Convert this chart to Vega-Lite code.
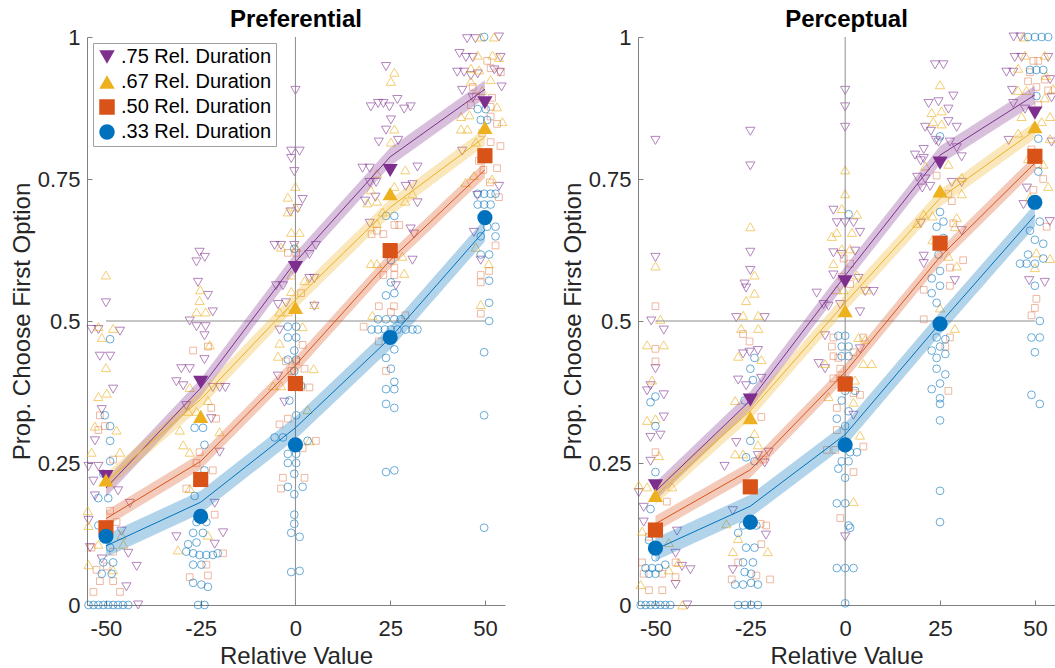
{
"$schema": "https://vega.github.io/schema/vega-lite/v6.json",
"padding": {"left": 10, "top": 8, "right": 0, "bottom": 0},
"background": "white",
"spacing": 52,
"resolve": {"legend": {"color": "independent", "shape": "independent"}},
"config": {
 "font": "Liberation Sans",
 "view": {"stroke": null},
 "axis": {"grid": false, "domainColor": "#808080", "tickColor": "#808080", "tickSize": -5, "labelFontSize": 22, "titleFontSize": 24, "titleFontWeight": "normal", "labelColor": "#262626", "titleColor": "#262626", "labelFont": "Liberation Sans", "titleFont": "Liberation Sans"},
 "title": {"fontSize": 24, "fontWeight": "bold", "color": "#000000", "offset": -6, "font": "Liberation Sans"}
},
"datasets": {
"mL": [
{"c":".75","x":-50,"m":0.226,"f":0.206,"lo":0.190,"hi":0.222},
{"c":".75","x":-25,"m":0.392,"f":0.382,"lo":0.366,"hi":0.398},
{"c":".75","x":0,"m":0.594,"f":0.604,"lo":0.588,"hi":0.620},
{"c":".75","x":25,"m":0.765,"f":0.789,"lo":0.773,"hi":0.805},
{"c":".75","x":50,"m":0.884,"f":0.908,"lo":0.892,"hi":0.924},
{"c":".67","x":-50,"m":0.220,"f":0.217,"lo":0.202,"hi":0.232},
{"c":".67","x":-25,"m":0.332,"f":0.362,"lo":0.347,"hi":0.377},
{"c":".67","x":0,"m":0.524,"f":0.537,"lo":0.522,"hi":0.552},
{"c":".67","x":25,"m":0.724,"f":0.700,"lo":0.685,"hi":0.715},
{"c":".67","x":50,"m":0.841,"f":0.824,"lo":0.809,"hi":0.839},
{"c":".50","x":-50,"m":0.136,"f":0.152,"lo":0.138,"hi":0.166},
{"c":".50","x":-25,"m":0.221,"f":0.253,"lo":0.239,"hi":0.267},
{"c":".50","x":0,"m":0.390,"f":0.422,"lo":0.408,"hi":0.436},
{"c":".50","x":25,"m":0.624,"f":0.607,"lo":0.593,"hi":0.621},
{"c":".50","x":50,"m":0.791,"f":0.766,"lo":0.752,"hi":0.780},
{"c":".33","x":-50,"m":0.121,"f":0.104,"lo":0.084,"hi":0.124},
{"c":".33","x":-25,"m":0.156,"f":0.181,"lo":0.161,"hi":0.201},
{"c":".33","x":0,"m":0.282,"f":0.312,"lo":0.292,"hi":0.332},
{"c":".33","x":25,"m":0.471,"f":0.470,"lo":0.450,"hi":0.490},
{"c":".33","x":50,"m":0.682,"f":0.660,"lo":0.640,"hi":0.680}
],
"mR": [
{"c":".75","x":-50,"m":0.210,"f":0.200,"lo":0.184,"hi":0.216},
{"c":".75","x":-25,"m":0.361,"f":0.360,"lo":0.344,"hi":0.376},
{"c":".75","x":0,"m":0.569,"f":0.580,"lo":0.564,"hi":0.596},
{"c":".75","x":25,"m":0.778,"f":0.792,"lo":0.776,"hi":0.808},
{"c":".75","x":50,"m":0.866,"f":0.898,"lo":0.882,"hi":0.914},
{"c":".67","x":-50,"m":0.193,"f":0.192,"lo":0.177,"hi":0.207},
{"c":".67","x":-25,"m":0.330,"f":0.342,"lo":0.327,"hi":0.357},
{"c":".67","x":0,"m":0.518,"f":0.532,"lo":0.517,"hi":0.547},
{"c":".67","x":25,"m":0.729,"f":0.716,"lo":0.701,"hi":0.731},
{"c":".67","x":50,"m":0.842,"f":0.836,"lo":0.821,"hi":0.851},
{"c":".50","x":-50,"m":0.132,"f":0.143,"lo":0.129,"hi":0.157},
{"c":".50","x":-25,"m":0.208,"f":0.238,"lo":0.224,"hi":0.252},
{"c":".50","x":0,"m":0.389,"f":0.410,"lo":0.396,"hi":0.424},
{"c":".50","x":25,"m":0.637,"f":0.613,"lo":0.599,"hi":0.627},
{"c":".50","x":50,"m":0.790,"f":0.778,"lo":0.764,"hi":0.792},
{"c":".33","x":-50,"m":0.100,"f":0.098,"lo":0.078,"hi":0.118},
{"c":".33","x":-25,"m":0.146,"f":0.174,"lo":0.154,"hi":0.194},
{"c":".33","x":0,"m":0.282,"f":0.300,"lo":0.280,"hi":0.320},
{"c":".33","x":25,"m":0.495,"f":0.496,"lo":0.476,"hi":0.516},
{"c":".33","x":50,"m":0.709,"f":0.686,"lo":0.666,"hi":0.706}
],
"sL": [
{"c":".75","x":-50,"y":0.532},{"c":".75","x":-53.8,"y":0.485},{"c":".75","x":-52,"y":0.485},{"c":".75","x":-46.3,"y":0.482},{"c":".75","x":-51.6,"y":0.438},{"c":".75","x":-48.9,"y":0.438},{"c":".75","x":-48.1,"y":0.38},{"c":".75","x":-51.1,"y":0.344},{"c":".75","x":-52.9,"y":0.289},{"c":".75","x":-54.6,"y":0.244},{"c":".75","x":-52,"y":0.244},{"c":".75","x":-53.3,"y":0.218},{"c":".75","x":-46.8,"y":0.201},{"c":".75","x":-52.9,"y":0.192},{"c":".75","x":-43.7,"y":0.179},{"c":".75","x":-54.6,"y":0.149},{"c":".75","x":-45.9,"y":0.13},{"c":".75","x":-54.2,"y":0.101},{"c":".75","x":-51.1,"y":0.081},{"c":".75","x":-44.1,"y":0.091},{"c":".75","x":-41.9,"y":0.068},{"c":".75","x":-44.6,"y":0.032},{"c":".75","x":-41.5,"y":0},
{"c":".75","x":-25.3,"y":0.621},{"c":".75","x":-26.1,"y":0.604},{"c":".75","x":-23.9,"y":0.612},{"c":".75","x":-25.7,"y":0.568},{"c":".75","x":-23.1,"y":0.545},{"c":".75","x":-21.8,"y":0.516},{"c":".75","x":-27.9,"y":0.5},{"c":".75","x":-26.1,"y":0.49},{"c":".75","x":-23.7,"y":0.49},{"c":".75","x":-24,"y":0.474},{"c":".75","x":-30.1,"y":0.416},{"c":".75","x":-27.9,"y":0.416},{"c":".75","x":-24,"y":0.432},{"c":".75","x":-31.4,"y":0.393},{"c":".75","x":-29.6,"y":0.386},{"c":".75","x":-21.8,"y":0.383},{"c":".75","x":-20,"y":0.383},{"c":".75","x":-18.5,"y":0.383},{"c":".75","x":-28.8,"y":0.351},{"c":".75","x":-22.2,"y":0.328},{"c":".75","x":-20,"y":0.269},{"c":".75","x":-21.3,"y":0.179},{"c":".75","x":-31.4,"y":0.12},{"c":".75","x":-19.1,"y":0.127},{"c":".75","x":-21.3,"y":0.107},
{"c":".75","x":0,"y":0.906},{"c":".75","x":-1.1,"y":0.799},{"c":".75","x":1.1,"y":0.799},{"c":".75","x":-0.3,"y":0.763},{"c":".75","x":-1.1,"y":0.786},{"c":".75","x":1.9,"y":0.714},{"c":".75","x":-1.3,"y":0.692},{"c":".75","x":0.6,"y":0.698},{"c":".75","x":-5.5,"y":0.633},{"c":".75","x":-3.8,"y":0.633},{"c":".75","x":-0.3,"y":0.633},{"c":".75","x":5.4,"y":0.633},{"c":".75","x":3.7,"y":0.617},{"c":".75","x":3.7,"y":0.575},{"c":".75","x":5,"y":0.575},{"c":".75","x":-3.3,"y":0.562},{"c":".75","x":-5.1,"y":0.562},{"c":".75","x":-4.6,"y":0.529},{"c":".75","x":-2.5,"y":0.532},{"c":".75","x":5,"y":0.526},{"c":".75","x":-4.2,"y":0.484},{"c":".75","x":-4.6,"y":0.403},{"c":".75","x":-2.9,"y":0.357},
{"c":".75","x":23.9,"y":0.948},{"c":".75","x":19.9,"y":0.877},{"c":".75","x":21.8,"y":0.883},{"c":".75","x":23.2,"y":0.883},{"c":".75","x":24.8,"y":0.877},{"c":".75","x":26.9,"y":0.89},{"c":".75","x":28.7,"y":0.873},{"c":".75","x":30.4,"y":0.877},{"c":".75","x":25.2,"y":0.854},{"c":".75","x":23.9,"y":0.836},{"c":".75","x":22,"y":0.815},{"c":".75","x":27.1,"y":0.818},{"c":".75","x":17.7,"y":0.769},{"c":".75","x":19.6,"y":0.769},{"c":".75","x":32.2,"y":0.771},{"c":".75","x":19.6,"y":0.744},{"c":".75","x":21.3,"y":0.744},{"c":".75","x":29.1,"y":0.737},{"c":".75","x":30.9,"y":0.74},{"c":".75","x":18.4,"y":0.711},{"c":".75","x":21.1,"y":0.718},{"c":".75","x":32.2,"y":0.708},{"c":".75","x":19.6,"y":0.672},{"c":".75","x":30.4,"y":0.662},{"c":".75","x":31.3,"y":0.653},{"c":".75","x":30.9,"y":0.607},{"c":".75","x":26.5,"y":0.562},
{"c":".75","x":45.3,"y":0.997},{"c":".75","x":47.5,"y":0.997},{"c":".75","x":53.7,"y":1},{"c":".75","x":43.3,"y":0.971},{"c":".75","x":45,"y":0.964},{"c":".75","x":46.8,"y":0.964},{"c":".75","x":54.1,"y":0.964},{"c":".75","x":42.7,"y":0.938},{"c":".75","x":44.5,"y":0.938},{"c":".75","x":46.3,"y":0.932},{"c":".75","x":48.1,"y":0.935},{"c":".75","x":52.5,"y":0.942},{"c":".75","x":53.9,"y":0.938},{"c":".75","x":44,"y":0.906},{"c":".75","x":54.4,"y":0.912},{"c":".75","x":46.8,"y":0.893},{"c":".75","x":44,"y":0.799},{"c":".75","x":47.1,"y":0.656},{"c":".75","x":48.9,"y":0.607},{"c":".75","x":53.7,"y":0.737},{"c":".75","x":48,"y":0.721},
{"c":".67","x":-50,"y":0.581},{"c":".67","x":-52,"y":0.49},{"c":".67","x":-48.1,"y":0.487},{"c":".67","x":-51.1,"y":0.471},{"c":".67","x":-50,"y":0.418},{"c":".67","x":-52,"y":0.367},{"c":".67","x":-49.8,"y":0.373},{"c":".67","x":-52.9,"y":0.315},{"c":".67","x":-47.2,"y":0.308},{"c":".67","x":-53.8,"y":0.269},{"c":".67","x":-46.3,"y":0.269},{"c":".67","x":-54.6,"y":0.14},{"c":".67","x":-54.8,"y":0.166},{"c":".67","x":-45.9,"y":0.123},{"c":".67","x":-52,"y":0.107},{"c":".67","x":-45.4,"y":0.107},{"c":".67","x":-54.6,"y":0.071},{"c":".67","x":-48.1,"y":0.062},
{"c":".67","x":-25.1,"y":0.555},{"c":".67","x":-25.3,"y":0.536},{"c":".67","x":-26.1,"y":0.516},{"c":".67","x":-23.7,"y":0.516},{"c":".67","x":-22.6,"y":0.458},{"c":".67","x":-27.9,"y":0.383},{"c":".67","x":-23.1,"y":0.36},{"c":".67","x":-28.3,"y":0.341},{"c":".67","x":-26.1,"y":0.341},{"c":".67","x":-30.5,"y":0.308},{"c":".67","x":-29.6,"y":0.282},{"c":".67","x":-27.9,"y":0.269},{"c":".67","x":-20,"y":0.305},{"c":".67","x":-27.9,"y":0.205},{"c":".67","x":-23.1,"y":0.123},{"c":".67","x":-31,"y":0.097},
{"c":".67","x":0,"y":0.737},{"c":".67","x":-2,"y":0.718},{"c":".67","x":0,"y":0.701},{"c":".67","x":-2,"y":0.692},{"c":".67","x":-1.1,"y":0.656},{"c":".67","x":1.1,"y":0.656},{"c":".67","x":-3.8,"y":0.63},{"c":".67","x":0.2,"y":0.63},{"c":".67","x":-1.1,"y":0.581},{"c":".67","x":2.4,"y":0.571},{"c":".67","x":-1.1,"y":0.552},{"c":".67","x":-4.2,"y":0.516},{"c":".67","x":-2,"y":0.516},{"c":".67","x":5,"y":0.529},{"c":".67","x":1.9,"y":0.49},{"c":".67","x":-4.2,"y":0.461},{"c":".67","x":-4.6,"y":0.438},{"c":".67","x":4.8,"y":0.416},{"c":".67","x":-5.9,"y":0.386},{"c":".67","x":-3.8,"y":0.386},{"c":".67","x":3.2,"y":0.344},{"c":".67","x":3.7,"y":0.289},
{"c":".67","x":26.1,"y":0.938},{"c":".67","x":25.2,"y":0.922},{"c":".67","x":26.1,"y":0.838},{"c":".67","x":25.2,"y":0.815},{"c":".67","x":21.5,"y":0.76},{"c":".67","x":29,"y":0.766},{"c":".67","x":19.9,"y":0.731},{"c":".67","x":26.1,"y":0.737},{"c":".67","x":30.9,"y":0.724},{"c":".67","x":19,"y":0.708},{"c":".67","x":21.5,"y":0.711},{"c":".67","x":29,"y":0.711},{"c":".67","x":23,"y":0.692},{"c":".67","x":21.5,"y":0.672},{"c":".67","x":19.9,"y":0.601},{"c":".67","x":21.5,"y":0.601},{"c":".67","x":28.2,"y":0.614},{"c":".67","x":28.7,"y":0.584},{"c":".67","x":20.3,"y":0.51},
{"c":".67","x":48.9,"y":1},{"c":".67","x":52.4,"y":1},{"c":".67","x":48.1,"y":0.968},{"c":".67","x":52,"y":0.968},{"c":".67","x":53.7,"y":0.964},{"c":".67","x":46.3,"y":0.945},{"c":".67","x":48.5,"y":0.942},{"c":".67","x":51.5,"y":0.925},{"c":".67","x":46.3,"y":0.922},{"c":".67","x":49.3,"y":0.906},{"c":".67","x":43.7,"y":0.86},{"c":".67","x":45.9,"y":0.863},{"c":".67","x":53.2,"y":0.877},{"c":".67","x":43.7,"y":0.838},{"c":".67","x":45.4,"y":0.838},{"c":".67","x":54.6,"y":0.851},{"c":".67","x":47.6,"y":0.815},{"c":".67","x":47.1,"y":0.756},{"c":".67","x":44.9,"y":0.744},{"c":".67","x":51.9,"y":0.75},{"c":".67","x":51,"y":0.601},{"c":".67","x":48.9,"y":0.529},{"c":".67","x":47.6,"y":0.63},
{"c":".50","x":-52,"y":0.308},{"c":".50","x":-50.3,"y":0.315},{"c":".50","x":-51.6,"y":0.334},{"c":".50","x":-48.1,"y":0.256},{"c":".50","x":-48.9,"y":0.166},{"c":".50","x":-47.2,"y":0.146},{"c":".50","x":-53.8,"y":0.101},{"c":".50","x":-48.1,"y":0.094},{"c":".50","x":-52.5,"y":0.062},{"c":".50","x":-49.8,"y":0.068},{"c":".50","x":-51.6,"y":0.042},{"c":".50","x":-48.1,"y":0.042},{"c":".50","x":-53.3,"y":0.023},{"c":".50","x":-46.3,"y":0.023},
{"c":".50","x":-27,"y":0.448},{"c":".50","x":-23.1,"y":0.455},{"c":".50","x":-25.3,"y":0.269},{"c":".50","x":-22.2,"y":0.347},{"c":".50","x":-20.9,"y":0.328},{"c":".50","x":-26.1,"y":0.25},{"c":".50","x":-21.8,"y":0.237},{"c":".50","x":-28.8,"y":0.205},{"c":".50","x":-21.3,"y":0.159},{"c":".50","x":-19.1,"y":0.091},{"c":".50","x":-23.5,"y":0.071},{"c":".50","x":-27.9,"y":0.049},{"c":".50","x":-23.1,"y":0.052},
{"c":".50","x":-2,"y":0.62},{"c":".50","x":0.2,"y":0.62},{"c":".50","x":1.5,"y":0.549},{"c":".50","x":1.9,"y":0.458},{"c":".50","x":-2.5,"y":0.429},{"c":".50","x":0.2,"y":0.429},{"c":".50","x":2.4,"y":0.416},{"c":".50","x":-1.1,"y":0.412},{"c":".50","x":1.5,"y":0.383},{"c":".50","x":3.7,"y":0.383},{"c":".50","x":-4.2,"y":0.318},{"c":".50","x":-2,"y":0.328},{"c":".50","x":5.4,"y":0.289},{"c":".50","x":1.9,"y":0.276},{"c":".50","x":-3.3,"y":0.224},{"c":".50","x":2.4,"y":0.224},{"c":".50","x":-3.8,"y":0.205},
{"c":".50","x":26.1,"y":0.669},{"c":".50","x":27.4,"y":0.669},{"c":".50","x":21.5,"y":0.659},{"c":".50","x":23.2,"y":0.653},{"c":".50","x":20.1,"y":0.653},{"c":".50","x":26.1,"y":0.594},{"c":".50","x":23.2,"y":0.581},{"c":".50","x":26.1,"y":0.581},{"c":".50","x":22,"y":0.526},{"c":".50","x":26,"y":0.526},{"c":".50","x":25.2,"y":0.516},{"c":".50","x":29,"y":0.51},{"c":".50","x":18,"y":0.49},{"c":".50","x":22,"y":0.464},{"c":".50","x":23.9,"y":0.412},
{"c":".50","x":50.6,"y":0.958},{"c":".50","x":51.5,"y":0.945},{"c":".50","x":54.2,"y":0.938},{"c":".50","x":46.8,"y":0.912},{"c":".50","x":47.6,"y":0.896},{"c":".50","x":51.9,"y":0.893},{"c":".50","x":51.5,"y":0.877},{"c":".50","x":46.3,"y":0.88},{"c":".50","x":51.5,"y":0.86},{"c":".50","x":53.2,"y":0.847},{"c":".50","x":54.1,"y":0.808},{"c":".50","x":49.3,"y":0.831},{"c":".50","x":51.5,"y":0.815},{"c":".50","x":48.4,"y":0.782},{"c":".50","x":49.6,"y":0.766},{"c":".50","x":53.2,"y":0.769},{"c":".50","x":51.3,"y":0.744},{"c":".50","x":53.7,"y":0.718},{"c":".50","x":52.8,"y":0.633},{"c":".50","x":48.9,"y":0.581},{"c":".50","x":48.9,"y":0.568},{"c":".50","x":51.1,"y":0.588},{"c":".50","x":48.9,"y":0.513},
{"c":".33","x":-48.9,"y":0.468},{"c":".33","x":-50.3,"y":0.334},{"c":".33","x":-48.9,"y":0.315},{"c":".33","x":-48.9,"y":0.289},{"c":".33","x":-48.9,"y":0.253},{"c":".33","x":-50.7,"y":0.231},{"c":".33","x":-52,"y":0.188},{"c":".33","x":-49.4,"y":0.188},{"c":".33","x":-52,"y":0.14},{"c":".33","x":-48.9,"y":0.101},{"c":".33","x":-50.7,"y":0.075},{"c":".33","x":-48.1,"y":0.075},{"c":".33","x":-51.1,"y":0.055},{"c":".33","x":-48.5,"y":0.055},{"c":".33","x":-54.6,"y":0},{"c":".33","x":-53.3,"y":0},{"c":".33","x":-52,"y":0},{"c":".33","x":-50.7,"y":0},{"c":".33","x":-49.4,"y":0},{"c":".33","x":-48.1,"y":0},{"c":".33","x":-46.8,"y":0},{"c":".33","x":-45.5,"y":0},{"c":".33","x":-44.1,"y":0},
{"c":".33","x":-26.6,"y":0.312},{"c":".33","x":-24.4,"y":0.312},{"c":".33","x":-24,"y":0.282},{"c":".33","x":-24,"y":0.237},{"c":".33","x":-26.6,"y":0.192},{"c":".33","x":-26.1,"y":0.146},{"c":".33","x":-23.5,"y":0.146},{"c":".33","x":-27,"y":0.127},{"c":".33","x":-24.4,"y":0.127},{"c":".33","x":-28.3,"y":0.107},{"c":".33","x":-26.1,"y":0.11},{"c":".33","x":-28.8,"y":0.094},{"c":".33","x":-27,"y":0.091},{"c":".33","x":-25.3,"y":0.088},{"c":".33","x":-23.5,"y":0.088},{"c":".33","x":-21.8,"y":0.088},{"c":".33","x":-20.5,"y":0.091},{"c":".33","x":-27,"y":0.071},{"c":".33","x":-24.8,"y":0.071},{"c":".33","x":-27,"y":0.039},{"c":".33","x":-24.8,"y":0.036},{"c":".33","x":-23.1,"y":0.032},{"c":".33","x":-25.7,"y":0},{"c":".33","x":-24,"y":0},
{"c":".33","x":-0.3,"y":0.627},{"c":".33","x":-2,"y":0.49},{"c":".33","x":0.2,"y":0.49},{"c":".33","x":-2,"y":0.471},{"c":".33","x":0.2,"y":0.471},{"c":".33","x":-0.3,"y":0.448},{"c":".33","x":-2,"y":0.432},{"c":".33","x":0.2,"y":0.432},{"c":".33","x":-0.3,"y":0.412},{"c":".33","x":-0.7,"y":0.386},{"c":".33","x":1.5,"y":0.386},{"c":".33","x":-1.6,"y":0.36},{"c":".33","x":0.2,"y":0.334},{"c":".33","x":-5.5,"y":0.295},{"c":".33","x":-3.3,"y":0.295},{"c":".33","x":3.2,"y":0.289},{"c":".33","x":-2,"y":0.266},{"c":".33","x":0.2,"y":0.266},{"c":".33","x":-2,"y":0.25},{"c":".33","x":0.2,"y":0.25},{"c":".33","x":-0.3,"y":0.231},{"c":".33","x":-2,"y":0.208},{"c":".33","x":1.9,"y":0.208},{"c":".33","x":-0.3,"y":0.195},{"c":".33","x":-0.3,"y":0.159},{"c":".33","x":-0.3,"y":0.143},{"c":".33","x":-1.1,"y":0.127},{"c":".33","x":1.1,"y":0.12},{"c":".33","x":-1.1,"y":0.058},{"c":".33","x":1.1,"y":0.06},
{"c":".33","x":23.9,"y":0.685},{"c":".33","x":26.1,"y":0.685},{"c":".33","x":25.2,"y":0.607},{"c":".33","x":25.2,"y":0.568},{"c":".33","x":23.9,"y":0.545},{"c":".33","x":26.1,"y":0.549},{"c":".33","x":21.8,"y":0.503},{"c":".33","x":23.9,"y":0.503},{"c":".33","x":26.1,"y":0.503},{"c":".33","x":27.8,"y":0.503},{"c":".33","x":20.1,"y":0.485},{"c":".33","x":21.8,"y":0.485},{"c":".33","x":23.6,"y":0.485},{"c":".33","x":25.2,"y":0.485},{"c":".33","x":26.9,"y":0.485},{"c":".33","x":29.1,"y":0.485},{"c":".33","x":30.9,"y":0.485},{"c":".33","x":32.2,"y":0.485},{"c":".33","x":25.6,"y":0.468},{"c":".33","x":26.1,"y":0.45},{"c":".33","x":23.9,"y":0.435},{"c":".33","x":25.2,"y":0.416},{"c":".33","x":26.1,"y":0.393},{"c":".33","x":23.9,"y":0.38},{"c":".33","x":26.1,"y":0.38},{"c":".33","x":23.9,"y":0.354},{"c":".33","x":26.1,"y":0.347},{"c":".33","x":23.9,"y":0.234},{"c":".33","x":26.1,"y":0.237},
{"c":".33","x":49.8,"y":1},{"c":".33","x":48.1,"y":0.873},{"c":".33","x":50.2,"y":0.873},{"c":".33","x":48.9,"y":0.854},{"c":".33","x":50.6,"y":0.854},{"c":".33","x":48.1,"y":0.724},{"c":".33","x":49.8,"y":0.724},{"c":".33","x":51.5,"y":0.724},{"c":".33","x":52.8,"y":0.724},{"c":".33","x":48.1,"y":0.705},{"c":".33","x":49.8,"y":0.705},{"c":".33","x":51.5,"y":0.705},{"c":".33","x":50.6,"y":0.666},{"c":".33","x":52.8,"y":0.666},{"c":".33","x":48.9,"y":0.649},{"c":".33","x":52.8,"y":0.649},{"c":".33","x":48.9,"y":0.617},{"c":".33","x":51.1,"y":0.617},{"c":".33","x":51.1,"y":0.571},{"c":".33","x":51.1,"y":0.532},{"c":".33","x":51.1,"y":0.5},{"c":".33","x":49.8,"y":0.445},{"c":".33","x":49.8,"y":0.334},{"c":".33","x":49.8,"y":0.136}
],
"sR": [
{"c":".75","x":-50,"y":0.818},{"c":".75","x":-50,"y":0.612},{"c":".75","x":-51.1,"y":0.5},{"c":".75","x":-47.8,"y":0.484},{"c":".75","x":-50,"y":0.416},{"c":".75","x":-51.3,"y":0.386},{"c":".75","x":-52.2,"y":0.377},{"c":".75","x":-47.8,"y":0.37},{"c":".75","x":-47.8,"y":0.331},{"c":".75","x":-51.3,"y":0.295},{"c":".75","x":-48.7,"y":0.299},{"c":".75","x":-51.3,"y":0.253},{"c":".75","x":-54.4,"y":0.198},{"c":".75","x":-53.1,"y":0.172},{"c":".75","x":-53.1,"y":0.146},{"c":".75","x":-44.3,"y":0.13},{"c":".75","x":-44.7,"y":0.091},{"c":".75","x":-43,"y":0.068},{"c":".75","x":-40.8,"y":0.062},{"c":".75","x":-44.7,"y":0.036},{"c":".75","x":-41.6,"y":0},
{"c":".75","x":-25,"y":0.834},{"c":".75","x":-25,"y":0.773},{"c":".75","x":-25,"y":0.621},{"c":".75","x":-25,"y":0.589},{"c":".75","x":-26.5,"y":0.565},{"c":".75","x":-26.1,"y":0.558},{"c":".75","x":-28.7,"y":0.506},{"c":".75","x":-21.2,"y":0.506},{"c":".75","x":-25.2,"y":0.445},{"c":".75","x":-23,"y":0.448},{"c":".75","x":-26.9,"y":0.442},{"c":".75","x":-28.2,"y":0.396},{"c":".75","x":-22.1,"y":0.399},{"c":".75","x":-26.1,"y":0.386},{"c":".75","x":-28.7,"y":0.286},{"c":".75","x":-23,"y":0.263},{"c":".75","x":-21.2,"y":0.25},{"c":".75","x":-31.8,"y":0.244},{"c":".75","x":-29.6,"y":0.166},{"c":".75","x":-20.9,"y":0.123},{"c":".75","x":-29.6,"y":0.062},{"c":".75","x":-20.2,"y":0.269},
{"c":".75","x":0,"y":0.906},{"c":".75","x":0,"y":0.877},{"c":".75","x":0,"y":0.841},{"c":".75","x":-3.1,"y":0.695},{"c":".75","x":-2.2,"y":0.673},{"c":".75","x":0,"y":0.673},{"c":".75","x":2.2,"y":0.673},{"c":".75","x":3.9,"y":0.656},{"c":".75","x":-3.1,"y":0.62},{"c":".75","x":-0.9,"y":0.617},{"c":".75","x":2.6,"y":0.623},{"c":".75","x":-3.1,"y":0.581},{"c":".75","x":3.5,"y":0.575},{"c":".75","x":5.3,"y":0.552},{"c":".75","x":7.5,"y":0.552},{"c":".75","x":-7.5,"y":0.549},{"c":".75","x":-5.7,"y":0.529},{"c":".75","x":-4.4,"y":0.526},{"c":".75","x":-1.3,"y":0.529},{"c":".75","x":3.9,"y":0.516},{"c":".75","x":-5.3,"y":0.474},{"c":".75","x":3.9,"y":0.451},{"c":".75","x":-7,"y":0.425},{"c":".75","x":-5.3,"y":0.416},{"c":".75","x":2.2,"y":0.334},{"c":".75","x":0,"y":0.12},
{"c":".75","x":23.7,"y":0.951},{"c":".75","x":25.9,"y":0.951},{"c":".75","x":22,"y":0.883},{"c":".75","x":24.6,"y":0.886},{"c":".75","x":28.5,"y":0.896},{"c":".75","x":27.2,"y":0.873},{"c":".75","x":27.2,"y":0.851},{"c":".75","x":29.4,"y":0.841},{"c":".75","x":21.1,"y":0.841},{"c":".75","x":22.6,"y":0.834},{"c":".75","x":23.9,"y":0.818},{"c":".75","x":24.6,"y":0.815},{"c":".75","x":27.6,"y":0.815},{"c":".75","x":20.7,"y":0.802},{"c":".75","x":29.4,"y":0.805},{"c":".75","x":18.4,"y":0.792},{"c":".75","x":20.7,"y":0.786},{"c":".75","x":19.9,"y":0.782},{"c":".75","x":30.7,"y":0.789},{"c":".75","x":19,"y":0.753},{"c":".75","x":21.1,"y":0.75},{"c":".75","x":20.3,"y":0.734},{"c":".75","x":22.4,"y":0.737},{"c":".75","x":28.1,"y":0.744},{"c":".75","x":30.7,"y":0.744},{"c":".75","x":19.9,"y":0.672},{"c":".75","x":30.7,"y":0.659},{"c":".75","x":20.7,"y":0.614},{"c":".75","x":20.7,"y":0.601},{"c":".75","x":28.9,"y":0.571},
{"c":".75","x":44.4,"y":1},{"c":".75","x":46.2,"y":1},{"c":".75","x":44.7,"y":0.964},{"c":".75","x":46.5,"y":0.964},{"c":".75","x":53.5,"y":0.964},{"c":".75","x":42.5,"y":0.938},{"c":".75","x":44.3,"y":0.938},{"c":".75","x":54,"y":0.925},{"c":".75","x":44,"y":0.906},{"c":".75","x":54.4,"y":0.893},{"c":".75","x":44.3,"y":0.883},{"c":".75","x":47.4,"y":0.873},{"c":".75","x":43.1,"y":0.818},{"c":".75","x":54.4,"y":0.815},{"c":".75","x":47.9,"y":0.734},{"c":".75","x":53.9,"y":0.675},{"c":".75","x":48.5,"y":0.571},{"c":".75","x":52.6,"y":0.568},{"c":".75","x":47,"y":0.705},
{"c":".67","x":-50,"y":0.597},{"c":".67","x":-48.7,"y":0.503},{"c":".67","x":-52.2,"y":0.458},{"c":".67","x":-47.8,"y":0.458},{"c":".67","x":-50.9,"y":0.396},{"c":".67","x":-52.2,"y":0.325},{"c":".67","x":-50,"y":0.328},{"c":".67","x":-49.1,"y":0.263},{"c":".67","x":-54.4,"y":0.211},{"c":".67","x":-52.2,"y":0.208},{"c":".67","x":-45.6,"y":0.208},{"c":".67","x":-53.5,"y":0.13},{"c":".67","x":-46.5,"y":0.11},{"c":".67","x":-46.5,"y":0.062},{"c":".67","x":-53.9,"y":0.036},{"c":".67","x":-43.9,"y":0.075},{"c":".67","x":-42.9,"y":0},
{"c":".67","x":-25,"y":0.666},{"c":".67","x":-23.9,"y":0.581},{"c":".67","x":-23.9,"y":0.549},{"c":".67","x":-26.1,"y":0.536},{"c":".67","x":-26.9,"y":0.51},{"c":".67","x":-22.9,"y":0.51},{"c":".67","x":-27.4,"y":0.487},{"c":".67","x":-22.9,"y":0.487},{"c":".67","x":-28.2,"y":0.438},{"c":".67","x":-22.1,"y":0.432},{"c":".67","x":-29,"y":0.36},{"c":".67","x":-23.9,"y":0.302},{"c":".67","x":-23,"y":0.282},{"c":".67","x":-29,"y":0.266},{"c":".67","x":-26.9,"y":0.266},{"c":".67","x":-31.3,"y":0.143},{"c":".67","x":-28.2,"y":0.117},{"c":".67","x":-29.6,"y":0.094},{"c":".67","x":-20.4,"y":0.094},
{"c":".67","x":0,"y":0.766},{"c":".67","x":0,"y":0.724},{"c":".67","x":-0.9,"y":0.698},{"c":".67","x":3.1,"y":0.688},{"c":".67","x":-2.2,"y":0.656},{"c":".67","x":1.8,"y":0.656},{"c":".67","x":-3.5,"y":0.649},{"c":".67","x":-0.9,"y":0.627},{"c":".67","x":1.3,"y":0.627},{"c":".67","x":-3.1,"y":0.601},{"c":".67","x":3.1,"y":0.581},{"c":".67","x":-2.2,"y":0.555},{"c":".67","x":-0.4,"y":0.555},{"c":".67","x":5.7,"y":0.555},{"c":".67","x":3.5,"y":0.471},{"c":".67","x":5.3,"y":0.468},{"c":".67","x":-5.3,"y":0.425},{"c":".67","x":4.8,"y":0.425},{"c":".67","x":7,"y":0.425},{"c":".67","x":2.6,"y":0.396},{"c":".67","x":-4.4,"y":0.367},{"c":".67","x":2.2,"y":0.357},{"c":".67","x":3.9,"y":0.299},{"c":".67","x":2.2,"y":0.182},
{"c":".67","x":25,"y":0.916},{"c":".67","x":22.8,"y":0.867},{"c":".67","x":25.4,"y":0.87},{"c":".67","x":23.2,"y":0.851},{"c":".67","x":25.4,"y":0.847},{"c":".67","x":21.1,"y":0.773},{"c":".67","x":27.2,"y":0.776},{"c":".67","x":30.7,"y":0.753},{"c":".67","x":30.7,"y":0.724},{"c":".67","x":20.7,"y":0.688},{"c":".67","x":23,"y":0.685},{"c":".67","x":29.4,"y":0.682},{"c":".67","x":28.9,"y":0.666},{"c":".67","x":23,"y":0.643},{"c":".67","x":27.2,"y":0.614},{"c":".67","x":29.4,"y":0.597},{"c":".67","x":25,"y":0.523},{"c":".67","x":28.9,"y":0.487},{"c":".67","x":19,"y":0.672},
{"c":".67","x":47,"y":1},{"c":".67","x":47.4,"y":0.968},{"c":".67","x":52.6,"y":0.968},{"c":".67","x":45.6,"y":0.945},{"c":".67","x":53,"y":0.932},{"c":".67","x":45.6,"y":0.906},{"c":".67","x":47.8,"y":0.906},{"c":".67","x":54.8,"y":0.909},{"c":".67","x":52.6,"y":0.893},{"c":".67","x":46.5,"y":0.86},{"c":".67","x":54,"y":0.86},{"c":".67","x":51.8,"y":0.851},{"c":".67","x":45.6,"y":0.831},{"c":".67","x":54,"y":0.821},{"c":".67","x":48.2,"y":0.786},{"c":".67","x":52.2,"y":0.776},{"c":".67","x":53.5,"y":0.737},{"c":".67","x":48.7,"y":0.718},{"c":".67","x":50.4,"y":0.62},{"c":".67","x":50,"y":0.594},{"c":".67","x":54,"y":0.61},
{"c":".50","x":-50,"y":0.526},{"c":".50","x":-50,"y":0.451},{"c":".50","x":-50,"y":0.429},{"c":".50","x":-50,"y":0.269},{"c":".50","x":-47,"y":0.182},{"c":".50","x":-51.7,"y":0.12},{"c":".50","x":-53.5,"y":0.075},{"c":".50","x":-44.7,"y":0.075},{"c":".50","x":-53.1,"y":0.055},{"c":".50","x":-48.2,"y":0.055},{"c":".50","x":-44.7,"y":0.049},{"c":".50","x":-51.7,"y":0.026},{"c":".50","x":-48.2,"y":0.026},
{"c":".50","x":-26.9,"y":0.477},{"c":".50","x":-25.2,"y":0.464},{"c":".50","x":-22.1,"y":0.331},{"c":".50","x":-20.8,"y":0.14},{"c":".50","x":-22.3,"y":0.143},{"c":".50","x":-22.1,"y":0.107},{"c":".50","x":-29.9,"y":0.045},{"c":".50","x":-19.8,"y":0.045},{"c":".50","x":-23.4,"y":0.052},{"c":".50","x":-28.2,"y":0.075},{"c":".50","x":-21.6,"y":0.256},
{"c":".50","x":-0.4,"y":0.61},{"c":".50","x":1.3,"y":0.601},{"c":".50","x":-0.9,"y":0.578},{"c":".50","x":1.3,"y":0.565},{"c":".50","x":-3.1,"y":0.471},{"c":".50","x":-3.5,"y":0.455},{"c":".50","x":-3.1,"y":0.438},{"c":".50","x":-1.8,"y":0.435},{"c":".50","x":4.8,"y":0.471},{"c":".50","x":2.2,"y":0.445},{"c":".50","x":-1.3,"y":0.416},{"c":".50","x":-3.1,"y":0.399},{"c":".50","x":-0.9,"y":0.399},{"c":".50","x":2.2,"y":0.373},{"c":".50","x":3.9,"y":0.37},{"c":".50","x":-2.2,"y":0.347},{"c":".50","x":-2.2,"y":0.308},{"c":".50","x":-4.8,"y":0.273},{"c":".50","x":-2.6,"y":0.273},{"c":".50","x":4.8,"y":0.279},{"c":".50","x":2.2,"y":0.234},{"c":".50","x":-1.3,"y":0.153},
{"c":".50","x":24.1,"y":0.756},{"c":".50","x":27.2,"y":0.724},{"c":".50","x":28.1,"y":0.711},{"c":".50","x":28.5,"y":0.672},{"c":".50","x":31.1,"y":0.607},{"c":".50","x":27.6,"y":0.594},{"c":".50","x":20.7,"y":0.555},{"c":".50","x":27.6,"y":0.562},{"c":".50","x":20.7,"y":0.503},{"c":".50","x":27.6,"y":0.471},{"c":".50","x":26.4,"y":0.455},{"c":".50","x":27.2,"y":0.377},
{"c":".50","x":49.6,"y":0.958},{"c":".50","x":50.9,"y":0.958},{"c":".50","x":48.7,"y":0.938},{"c":".50","x":52.6,"y":0.925},{"c":".50","x":48.2,"y":0.922},{"c":".50","x":50.4,"y":0.912},{"c":".50","x":53.5,"y":0.906},{"c":".50","x":50.9,"y":0.88},{"c":".50","x":49.1,"y":0.802},{"c":".50","x":50.9,"y":0.776},{"c":".50","x":52.2,"y":0.75},{"c":".50","x":49.6,"y":0.731},{"c":".50","x":53.1,"y":0.666},{"c":".50","x":50.4,"y":0.539},{"c":".50","x":50,"y":0.523},{"c":".50","x":49.1,"y":0.51},
{"c":".33","x":-50,"y":0.367},{"c":".33","x":-51.3,"y":0.357},{"c":".33","x":-50,"y":0.315},{"c":".33","x":-50,"y":0.234},{"c":".33","x":-51.3,"y":0.169},{"c":".33","x":-51.7,"y":0.114},{"c":".33","x":-50,"y":0.084},{"c":".33","x":-52.6,"y":0.065},{"c":".33","x":-50.9,"y":0.065},{"c":".33","x":-49.1,"y":0.065},{"c":".33","x":-47.4,"y":0.071},{"c":".33","x":-51.7,"y":0.055},{"c":".33","x":-50,"y":0.055},{"c":".33","x":-53.9,"y":0},{"c":".33","x":-52.6,"y":0},{"c":".33","x":-51.3,"y":0},{"c":".33","x":-50,"y":0},{"c":".33","x":-48.7,"y":0},{"c":".33","x":-47.4,"y":0},{"c":".33","x":-46.1,"y":0},
{"c":".33","x":-23.9,"y":0.435},{"c":".33","x":-25,"y":0.416},{"c":".33","x":-24.3,"y":0.396},{"c":".33","x":-26.5,"y":0.36},{"c":".33","x":-25,"y":0.289},{"c":".33","x":-26.1,"y":0.26},{"c":".33","x":-23.9,"y":0.253},{"c":".33","x":-26.9,"y":0.14},{"c":".33","x":-25.2,"y":0.14},{"c":".33","x":-23.4,"y":0.14},{"c":".33","x":-28.2,"y":0.127},{"c":".33","x":-26.1,"y":0.101},{"c":".33","x":-23.9,"y":0.101},{"c":".33","x":-26.9,"y":0.075},{"c":".33","x":-24.3,"y":0.075},{"c":".33","x":-26.5,"y":0.058},{"c":".33","x":-24.8,"y":0.055},{"c":".33","x":-29,"y":0.036},{"c":".33","x":-26.9,"y":0.036},{"c":".33","x":-24.8,"y":0.039},{"c":".33","x":-23,"y":0.036},{"c":".33","x":-28.2,"y":0},{"c":".33","x":-26.4,"y":0},{"c":".33","x":-24.8,"y":0},{"c":".33","x":-23,"y":0},
{"c":".33","x":0.9,"y":0.688},{"c":".33","x":-1.8,"y":0.474},{"c":".33","x":0,"y":0.474},{"c":".33","x":-0.9,"y":0.455},{"c":".33","x":0.9,"y":0.455},{"c":".33","x":-0.9,"y":0.438},{"c":".33","x":0.9,"y":0.438},{"c":".33","x":-0.9,"y":0.396},{"c":".33","x":0.9,"y":0.396},{"c":".33","x":0,"y":0.377},{"c":".33","x":2.6,"y":0.377},{"c":".33","x":-0.9,"y":0.36},{"c":".33","x":0.9,"y":0.341},{"c":".33","x":-2.2,"y":0.328},{"c":".33","x":0,"y":0.315},{"c":".33","x":1.3,"y":0.269},{"c":".33","x":3.1,"y":0.269},{"c":".33","x":-0.9,"y":0.253},{"c":".33","x":0.9,"y":0.253},{"c":".33","x":-1.8,"y":0.24},{"c":".33","x":0,"y":0.224},{"c":".33","x":-2.2,"y":0.179},{"c":".33","x":0,"y":0.179},{"c":".33","x":0.9,"y":0.14},{"c":".33","x":1.3,"y":0.136},{"c":".33","x":-2.2,"y":0.065},{"c":".33","x":0,"y":0.065},{"c":".33","x":2.2,"y":0.065},{"c":".33","x":0,"y":0.003},
{"c":".33","x":25,"y":0.825},{"c":".33","x":25,"y":0.692},{"c":".33","x":25.9,"y":0.675},{"c":".33","x":24.1,"y":0.666},{"c":".33","x":25.9,"y":0.646},{"c":".33","x":24.6,"y":0.617},{"c":".33","x":25,"y":0.588},{"c":".33","x":22.8,"y":0.575},{"c":".33","x":25,"y":0.562},{"c":".33","x":22.8,"y":0.549},{"c":".33","x":24.1,"y":0.532},{"c":".33","x":24.1,"y":0.471},{"c":".33","x":26.4,"y":0.468},{"c":".33","x":25,"y":0.455},{"c":".33","x":22.8,"y":0.448},{"c":".33","x":26.4,"y":0.442},{"c":".33","x":24.1,"y":0.435},{"c":".33","x":24.1,"y":0.416},{"c":".33","x":26.4,"y":0.406},{"c":".33","x":25,"y":0.39},{"c":".33","x":22.8,"y":0.38},{"c":".33","x":25,"y":0.364},{"c":".33","x":25,"y":0.354},{"c":".33","x":25,"y":0.325},{"c":".33","x":25,"y":0.201},{"c":".33","x":25,"y":0.146},
{"c":".33","x":48.2,"y":1},{"c":".33","x":50,"y":1},{"c":".33","x":51.8,"y":1},{"c":".33","x":53.5,"y":1},{"c":".33","x":48.7,"y":0.942},{"c":".33","x":50.4,"y":0.942},{"c":".33","x":52.2,"y":0.942},{"c":".33","x":50.4,"y":0.896},{"c":".33","x":50.9,"y":0.821},{"c":".33","x":50.9,"y":0.763},{"c":".33","x":51.3,"y":0.675},{"c":".33","x":48.7,"y":0.659},{"c":".33","x":50,"y":0.643},{"c":".33","x":52.2,"y":0.636},{"c":".33","x":48.2,"y":0.617},{"c":".33","x":52.2,"y":0.61},{"c":".33","x":46.1,"y":0.601},{"c":".33","x":47.8,"y":0.601},{"c":".33","x":50,"y":0.601},{"c":".33","x":50,"y":0.562},{"c":".33","x":51.3,"y":0.5},{"c":".33","x":49.1,"y":0.471},{"c":".33","x":51.3,"y":0.471},{"c":".33","x":50,"y":0.445},{"c":".33","x":49.1,"y":0.37},{"c":".33","x":51.3,"y":0.354}
]
},
"hconcat": [
{
 "width": 418, "height": 568,
 "title": {"text": "Preferential"},
 "layer": [
  {"data": {"name": "sL"}, "transform": [{"filter": "datum.c == '.75'"}],
   "mark": {"type": "point", "shape": "triangle-down", "filled": false, "color": "#7E2F8E", "size": 85, "opacity": 0.65, "strokeWidth": 0.9},
   "encoding": {
    "x": {"field": "x", "type": "quantitative", "scale": {"domain": [-55, 55.3], "nice": false, "zero": false},
          "axis": {"title": "Relative Value", "values": [-50, -25, 0, 25, 50], "labelExpr": "datum.value < 0 ? '-' + (-datum.value) : '' + datum.value", "labelPadding": 18, "titlePadding": 5}},
    "y": {"field": "y", "type": "quantitative", "scale": {"domain": [0, 1], "nice": false, "zero": false},
          "axis": {"title": "Prop. Choose First Option", "values": [0, 0.25, 0.5, 0.75, 1], "labelExpr": "'' + datum.value", "labelPadding": 12, "titlePadding": 3}}
   }},
  {"data": {"name": "sL"}, "transform": [{"filter": "datum.c == '.67'"}],
   "mark": {"type": "point", "shape": "triangle-up", "filled": false, "color": "#EDB120", "size": 85, "opacity": 0.7, "strokeWidth": 0.9},
   "encoding": {"x": {"field": "x", "type": "quantitative"}, "y": {"field": "y", "type": "quantitative"}}},
  {"data": {"name": "sL"}, "transform": [{"filter": "datum.c == '.50'"}],
   "mark": {"type": "point", "shape": "square", "filled": false, "color": "#D95319", "size": 45, "opacity": 0.45, "strokeWidth": 0.9},
   "encoding": {"x": {"field": "x", "type": "quantitative"}, "y": {"field": "y", "type": "quantitative"}}},
  {"data": {"name": "sL"}, "transform": [{"filter": "datum.c == '.33'"}],
   "mark": {"type": "point", "shape": "circle", "filled": false, "color": "#0072BD", "size": 60, "opacity": 0.65, "strokeWidth": 0.9},
   "encoding": {"x": {"field": "x", "type": "quantitative"}, "y": {"field": "y", "type": "quantitative"}}},
  {"data": {"values": [{}]}, "mark": {"type": "rule", "color": "#8c8c8c", "strokeWidth": 1},
   "encoding": {"x": {"datum": 0, "type": "quantitative"}, "y": {"datum": 0, "type": "quantitative"}, "y2": {"datum": 1}}},
  {"data": {"values": [{}]}, "mark": {"type": "rule", "color": "#8c8c8c", "strokeWidth": 1},
   "encoding": {"x": {"datum": -50, "type": "quantitative"}, "x2": {"datum": 50}, "y": {"datum": 0.5, "type": "quantitative"}}},
  {"data": {"name": "mL"}, "mark": {"type": "area", "opacity": 0.3},
   "encoding": {
    "x": {"field": "x", "type": "quantitative"},
    "y": {"field": "lo", "type": "quantitative"},
    "y2": {"field": "hi"},
    "fill": {"field": "c", "type": "nominal", "scale": {"domain": [".75", ".67", ".50", ".33"], "range": ["#7E2F8E", "#EDB120", "#D95319", "#0072BD"]}, "legend": null}
   }},
  {"data": {"name": "mL"}, "mark": {"type": "line", "strokeWidth": 1},
   "encoding": {
    "x": {"field": "x", "type": "quantitative"},
    "y": {"field": "f", "type": "quantitative"},
    "stroke": {"field": "c", "type": "nominal", "scale": {"domain": [".75", ".67", ".50", ".33"], "range": ["#7E2F8E", "#EDB120", "#D95319", "#0072BD"]}, "legend": null}
   }},
  {"data": {"name": "mL"}, "mark": {"type": "point", "filled": true, "size": 230, "opacity": 1},
   "encoding": {
    "x": {"field": "x", "type": "quantitative"},
    "y": {"field": "m", "type": "quantitative"},
    "color": {"field": "c", "type": "nominal", "scale": {"domain": [".75", ".67", ".50", ".33"], "range": ["#7E2F8E", "#EDB120", "#D95319", "#0072BD"]},
              "legend": {"title": null, "orient": "top-left", "offset": 6, "padding": 4, "strokeColor": "#a0a0a0", "fillColor": "white", "labelFontSize": 20, "labelFont": "Liberation Sans", "labelColor": "#000000", "symbolSize": 240, "rowPadding": 5, "labelOffset": 4, "labelExpr": "datum.label + ' Rel. Duration'"}},
    "shape": {"field": "c", "type": "nominal", "scale": {"domain": [".75", ".67", ".50", ".33"], "range": ["triangle-down", "triangle-up", "square", "circle"]},
              "legend": {"title": null, "orient": "top-left", "offset": 6, "padding": 4, "strokeColor": "#a0a0a0", "fillColor": "white", "labelFontSize": 20, "labelFont": "Liberation Sans", "labelColor": "#000000", "symbolSize": 240, "rowPadding": 5, "labelOffset": 4, "labelExpr": "datum.label + ' Rel. Duration'"}}
   }}
 ]
},
{
 "width": 417, "height": 568,
 "title": {"text": "Perceptual"},
 "layer": [
  {"data": {"name": "sR"}, "transform": [{"filter": "datum.c == '.75'"}],
   "mark": {"type": "point", "shape": "triangle-down", "filled": false, "color": "#7E2F8E", "size": 85, "opacity": 0.65, "strokeWidth": 0.9},
   "encoding": {
    "x": {"field": "x", "type": "quantitative", "scale": {"domain": [-54.6, 55.3], "nice": false, "zero": false},
          "axis": {"title": "Relative Value", "values": [-50, -25, 0, 25, 50], "labelExpr": "datum.value < 0 ? '-' + (-datum.value) : '' + datum.value", "labelPadding": 18, "titlePadding": 5}},
    "y": {"field": "y", "type": "quantitative", "scale": {"domain": [0, 1], "nice": false, "zero": false},
          "axis": {"title": "Prop. Choose First Option", "values": [0, 0.25, 0.5, 0.75, 1], "labelExpr": "'' + datum.value", "labelPadding": 12, "titlePadding": 3}}
   }},
  {"data": {"name": "sR"}, "transform": [{"filter": "datum.c == '.67'"}],
   "mark": {"type": "point", "shape": "triangle-up", "filled": false, "color": "#EDB120", "size": 85, "opacity": 0.7, "strokeWidth": 0.9},
   "encoding": {"x": {"field": "x", "type": "quantitative"}, "y": {"field": "y", "type": "quantitative"}}},
  {"data": {"name": "sR"}, "transform": [{"filter": "datum.c == '.50'"}],
   "mark": {"type": "point", "shape": "square", "filled": false, "color": "#D95319", "size": 45, "opacity": 0.45, "strokeWidth": 0.9},
   "encoding": {"x": {"field": "x", "type": "quantitative"}, "y": {"field": "y", "type": "quantitative"}}},
  {"data": {"name": "sR"}, "transform": [{"filter": "datum.c == '.33'"}],
   "mark": {"type": "point", "shape": "circle", "filled": false, "color": "#0072BD", "size": 60, "opacity": 0.65, "strokeWidth": 0.9},
   "encoding": {"x": {"field": "x", "type": "quantitative"}, "y": {"field": "y", "type": "quantitative"}}},
  {"data": {"values": [{}]}, "mark": {"type": "rule", "color": "#8c8c8c", "strokeWidth": 1},
   "encoding": {"x": {"datum": 0, "type": "quantitative"}, "y": {"datum": 0, "type": "quantitative"}, "y2": {"datum": 1}}},
  {"data": {"values": [{}]}, "mark": {"type": "rule", "color": "#8c8c8c", "strokeWidth": 1},
   "encoding": {"x": {"datum": -50, "type": "quantitative"}, "x2": {"datum": 50}, "y": {"datum": 0.5, "type": "quantitative"}}},
  {"data": {"name": "mR"}, "mark": {"type": "area", "opacity": 0.3},
   "encoding": {
    "x": {"field": "x", "type": "quantitative"},
    "y": {"field": "lo", "type": "quantitative"},
    "y2": {"field": "hi"},
    "fill": {"field": "c", "type": "nominal", "scale": {"domain": [".75", ".67", ".50", ".33"], "range": ["#7E2F8E", "#EDB120", "#D95319", "#0072BD"]}, "legend": null}
   }},
  {"data": {"name": "mR"}, "mark": {"type": "line", "strokeWidth": 1},
   "encoding": {
    "x": {"field": "x", "type": "quantitative"},
    "y": {"field": "f", "type": "quantitative"},
    "stroke": {"field": "c", "type": "nominal", "scale": {"domain": [".75", ".67", ".50", ".33"], "range": ["#7E2F8E", "#EDB120", "#D95319", "#0072BD"]}, "legend": null}
   }},
  {"data": {"name": "mR"}, "mark": {"type": "point", "filled": true, "size": 230, "opacity": 1},
   "encoding": {
    "x": {"field": "x", "type": "quantitative"},
    "y": {"field": "m", "type": "quantitative"},
    "color": {"field": "c", "type": "nominal", "scale": {"domain": [".75", ".67", ".50", ".33"], "range": ["#7E2F8E", "#EDB120", "#D95319", "#0072BD"]}, "legend": null},
    "shape": {"field": "c", "type": "nominal", "scale": {"domain": [".75", ".67", ".50", ".33"], "range": ["triangle-down", "triangle-up", "square", "circle"]}, "legend": null}
   }}
 ]
}
]
}
